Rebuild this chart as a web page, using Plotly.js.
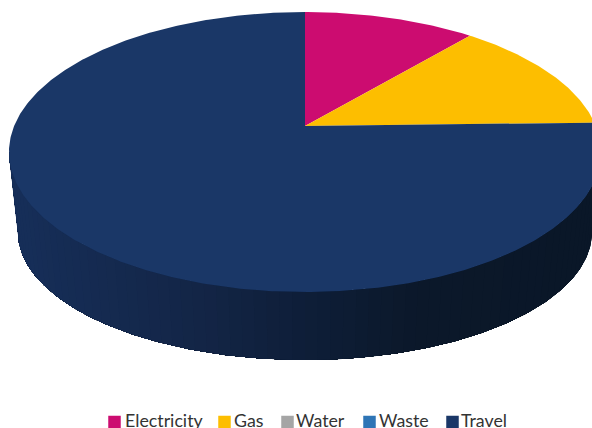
<!DOCTYPE html>
<html><head><meta charset="utf-8">
<script src="https://cdn.plot.ly/plotly-3.0.0.min.js"></script>
<style>html,body{margin:0;padding:0;background:#fff;overflow:hidden}#c{width:592px;height:428px}</style>
</head><body><div id="c"></div>
<script>
const categories = ["Electricity","Gas","Water","Waste","Travel"];
const shares = [11.2,13.4,0,0,75.4];
const colors = ["#CC0C70","#FDBE00","#A5A5A5","#2E75B6","#1A3767"];
const legendX = [108,218,281,363,446];
const legendTextX = [125,234,296,379,461];
const wallStopX = [20,200,305,420,592];
const wallStopRGB = [[22,46,88],[19,37,70],[14,30,56],[11,24,42],[10,23,40]];

// projection of the tilted disc
const cx=305, apexY=126, R=290.9, c=135.2, k=0.1857;
function disc(a){ // a: clockwise angle from top, radians
  const x=Math.sin(a), y=Math.cos(a), w=1+k*y;
  return [cx+R*x/w, apexY-c*y/w];
}
function topRim(t){return [cx+296*Math.cos(t),152+140*Math.sin(t)];}
function botRim(t){return [cx+287*Math.cos(t),232+128*Math.sin(t)];}
function wallColor(x){
  let i=0; while(i<wallStopX.length-2 && x>wallStopX[i+1]) i++;
  let f=(x-wallStopX[i])/(wallStopX[i+1]-wallStopX[i]); f=Math.max(0,Math.min(1,f));
  const p=wallStopRGB[i],q=wallStopRGB[i+1];
  return `rgb(${p.map((v,j)=>Math.round(v+(q[j]-v)*f)).join(",")})`;
}
const traces=[];
// side wall bands: each band reaches to the far end, the next one paints over it, so no seams show
const bands=72, arcSteps=4;
for(let b=0;b<bands;b++){
  const xs=[],ys=[],back=[];
  for(let s=b*arcSteps;s<=bands*arcSteps;s++){
    const t=Math.PI*s/(bands*arcSteps);
    const A=topRim(t),D=botRim(t);
    xs.push(A[0]);ys.push(A[1]);back.push(D);
  }
  back.reverse().forEach(p=>{xs.push(p[0]);ys.push(p[1]);});
  xs.push(xs[0]);ys.push(ys[0]);
  const col=wallColor(topRim(Math.PI*(b+0.5)/bands)[0]);
  traces.push({type:"scatter",mode:"lines",x:xs,y:ys,
    fill:"toself",fillcolor:col,line:{color:col,width:0},showlegend:false,hoverinfo:"skip"});
}
// top face slices
const total=shares.reduce((s,v)=>s+v,0);
let acc=0;
categories.forEach((name,i)=>{
  const a0=acc/total*2*Math.PI; acc+=shares[i]; const a1=acc/total*2*Math.PI;
  if(a1<=a0) return;
  const n=Math.max(2,Math.ceil((a1-a0)/0.01));
  const xs=[cx],ys=[apexY];
  for(let j=0;j<=n;j++){const p=disc(a0+(a1-a0)*j/n);xs.push(p[0]);ys.push(p[1]);}
  xs.push(cx);ys.push(apexY);
  traces.push({type:"scatter",mode:"lines",x:xs,y:ys,fill:"toself",fillcolor:colors[i],
    line:{width:0,color:colors[i]},name:name,showlegend:false,hoverinfo:"skip"});
});
// legend row
categories.forEach((name,i)=>{
  traces.push({type:"scatter",mode:"markers",x:[legendX[i]+6.5],y:[422],
    marker:{symbol:"square",size:12.5,color:colors[i],line:{width:0}},name:name,showlegend:false,hoverinfo:"skip"});
  traces.push({type:"scatter",mode:"text",x:[legendTextX[i]],y:[423],text:[name],
    textposition:"middle right",textfont:{family:"Lato, Carlito, sans-serif",size:17.8,color:"#333333"},
    name:name,showlegend:false,hoverinfo:"skip"});
});
Plotly.newPlot("c",traces,{
  width:592,height:428,margin:{l:0,r:0,t:0,b:0,pad:0},showlegend:false,
  paper_bgcolor:"#fff",plot_bgcolor:"#fff",
  xaxis:{range:[0,592],visible:false,fixedrange:true},
  yaxis:{range:[428,0],visible:false,fixedrange:true}
},{staticPlot:true,displayModeBar:false});
</script></body></html>
